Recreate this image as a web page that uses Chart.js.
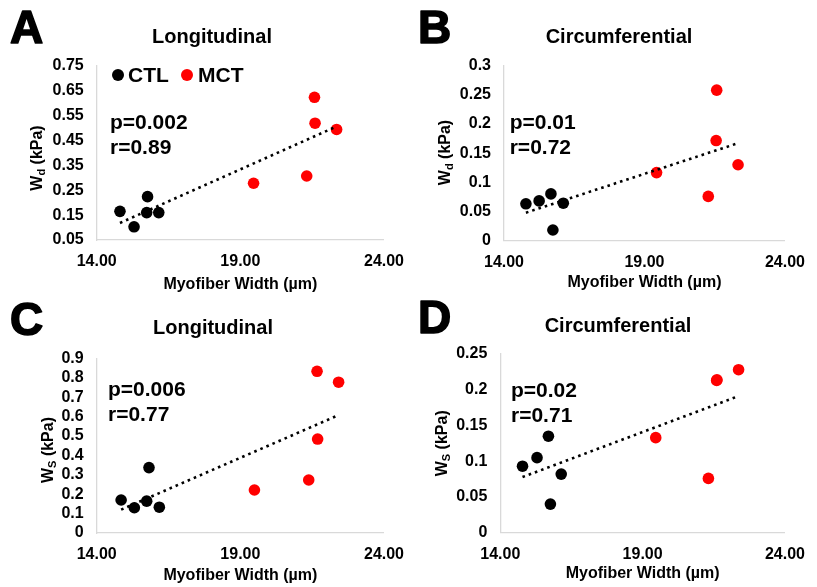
<!DOCTYPE html>
<html>
<head>
<meta charset="utf-8">
<script src="https://cdn.jsdelivr.net/npm/chart.js@4/dist/chart.umd.min.js"></script>
<style>
  html, body { margin: 0; padding: 0; background: #fff; }
  #wrap { position: relative; width: 817px; height: 587px; overflow: hidden; background: #fff; }
  #wrap canvas { position: absolute; left: 0; top: 0; }
</style>
</head>
<body>
<div id="wrap">
  <canvas id="chartA" width="817" height="587"></canvas>
  <canvas id="chartB" width="817" height="587"></canvas>
  <canvas id="chartC" width="817" height="587"></canvas>
  <canvas id="chartD" width="817" height="587"></canvas>
</div>
<script>
// ---- tick values ----
const xTickValues = [14, 19, 24];
const yTicksA = [0.05, 0.15, 0.25, 0.35, 0.45, 0.55, 0.65, 0.75];
const yTicksB = [0, 0.05, 0.1, 0.15, 0.2, 0.25, 0.3];
const yTicksC = [0, 0.1, 0.2, 0.3, 0.4, 0.5, 0.6, 0.7, 0.8, 0.9];
const yTicksD = [0, 0.05, 0.1, 0.15, 0.2, 0.25];

// ---- A: Wd, longitudinal ----
const widthCtlA = [14.81, 15.30, 15.74, 15.77, 16.16];
const wdLongCtl = [0.165, 0.103, 0.160, 0.224, 0.160];
const widthMctA = [19.46, 21.31, 21.58, 21.60, 22.35];
const wdLongMct = [0.278, 0.307, 0.623, 0.519, 0.494];

// ---- B: Wd, circumferential ----
const widthCtlB = [14.78, 15.25, 15.67, 15.74, 16.11];
const wdCircCtl = [0.063, 0.068, 0.080, 0.018, 0.064];
const widthMctB = [19.43, 21.27, 21.57, 21.55, 22.33];
const wdCircMct = [0.1165, 0.0757, 0.258, 0.1715, 0.130];

// ---- C: Ws, longitudinal ----
const widthCtlC = [14.85, 15.31, 15.74, 15.82, 16.18];
const wsLongCtl = [0.170, 0.130, 0.164, 0.337, 0.133];
const widthMctC = [19.49, 21.38, 21.67, 21.69, 22.42];
const wsLongMct = [0.2215, 0.273, 0.833, 0.484, 0.777];

// ---- D: Ws, circumferential ----
const widthCtlD = [14.78, 15.29, 15.69, 15.76, 16.14];
const wsCircCtl = [0.093, 0.105, 0.135, 0.040, 0.082];
const widthMctD = [19.46, 21.31, 21.60, 21.61, 22.37];
const wsCircMct = [0.133, 0.076, 0.213, 0.214, 0.228];

// ---- statistics printed on each panel ----
const statsA = ['p=0.002', 'r=0.89'];
const statsB = ['p=0.01', 'r=0.72'];
const statsC = ['p=0.006', 'r=0.77'];
const statsD = ['p=0.02', 'r=0.71'];

const FONT = '"Liberation Sans", Arial, Helvetica, sans-serif';

function toPoints(xs, ys) {
  return xs.map((x, i) => ({ x: x, y: ys[i] }));
}

// least-squares trend line across both groups, spanning the data's x range
function trendLine(xs, ys) {
  const n = xs.length;
  const mx = xs.reduce((a, b) => a + b, 0) / n;
  const my = ys.reduce((a, b) => a + b, 0) / n;
  let sxy = 0, sxx = 0;
  for (let i = 0; i < n; i++) {
    sxy += (xs[i] - mx) * (ys[i] - my);
    sxx += (xs[i] - mx) * (xs[i] - mx);
  }
  const slope = sxy / sxx;
  const icept = my - slope * mx;
  const x0 = Math.min(...xs), x1 = Math.max(...xs);
  return [{ x: x0, y: icept + slope * x0 }, { x: x1, y: icept + slope * x1 }];
}

// panel lettering, titles, stats, legend and axis titles
const panelText = {
  id: 'panelText',
  afterDraw(chart, args, o) {
    const ctx = chart.ctx;
    const area = chart.chartArea;
    ctx.save();
    ctx.fillStyle = '#000';
    ctx.strokeStyle = '#000';
    ctx.textBaseline = 'alphabetic';

    // heavy panel letter
    ctx.textAlign = 'left';
    ctx.font = 'bold 46px ' + FONT;
    ctx.lineWidth = 1.6;
    ctx.lineJoin = 'round';
    ctx.fillText(o.letter, o.letterPos[0], o.letterPos[1]);
    ctx.strokeText(o.letter, o.letterPos[0], o.letterPos[1]);

    ctx.textAlign = 'center';
    ctx.font = 'bold 20px ' + FONT;
    ctx.fillText(o.title, o.titlePos[0], o.titlePos[1]);

    ctx.textAlign = 'left';
    ctx.font = 'bold 21px ' + FONT;
    o.stats.forEach((s, i) => ctx.fillText(s, o.statsPos[0], o.statsPos[1] + i * 25));

    if (o.legend) {
      const ds = chart.data.datasets;
      o.legend.forEach((item, i) => {
        const d = ds[i];
        ctx.fillStyle = d.backgroundColor;
        ctx.beginPath();
        ctx.arc(item.dot[0], item.dot[1], 6, 0, Math.PI * 2);
        ctx.fill();
        ctx.fillStyle = '#000';
        ctx.font = 'bold 21px ' + FONT;
        ctx.fillText(d.label, item.text[0], item.text[1]);
      });
    }

    // x axis title
    ctx.textAlign = 'center';
    ctx.font = 'bold 16px ' + FONT;
    ctx.fillText('Myofiber Width (\u00b5m)', (area.left + area.right) / 2, o.xTitleY);

    // y axis title with subscript, rotated
    ctx.save();
    ctx.translate(o.yTitlePos[0], o.yTitlePos[1]);
    ctx.rotate(-Math.PI / 2);
    ctx.textBaseline = 'middle';
    ctx.textAlign = 'left';
    const mainFont = 'bold 16px ' + FONT;
    const subFont = 'bold 11px ' + FONT;
    ctx.font = mainFont;
    const wW = ctx.measureText('W').width;
    const rest = ' (kPa)';
    const rW = ctx.measureText(rest).width;
    ctx.font = subFont;
    const sW = ctx.measureText(o.ySub).width;
    let x = -(wW + sW + rW) / 2;
    ctx.font = mainFont;
    ctx.fillText('W', x, 0);
    x += wW;
    ctx.font = subFont;
    ctx.fillText(o.ySub, x, 4);
    x += sW;
    ctx.font = mainFont;
    ctx.fillText(rest, x, 0);
    ctx.restore();

    ctx.restore();
  }
};

const Y_W = 60, X_H = 40;

function makePanel(id, p) {
  const allX = p.ctlX.concat(p.mctX);
  const allY = p.ctlY.concat(p.mctY);
  return new Chart(document.getElementById(id), {
    type: 'scatter',
    data: {
      datasets: [
        { label: 'CTL', data: toPoints(p.ctlX, p.ctlY), backgroundColor: '#000000', borderColor: '#000000',
          pointRadius: 5.8, pointHoverRadius: 5.8, borderWidth: 0, order: 2 },
        { label: 'MCT', data: toPoints(p.mctX, p.mctY), backgroundColor: '#ff0000', borderColor: '#ff0000',
          pointRadius: 5.8, pointHoverRadius: 5.8, borderWidth: 0, order: 2 },
        { label: 'Trend', data: trendLine(allX, allY), showLine: true, borderColor: '#000000',
          borderWidth: 2.6, borderDash: [2.6, 4.0], pointRadius: 0, pointHoverRadius: 0, order: 1 }
      ]
    },
    options: {
      responsive: false,
      animation: false,
      events: [],
      layout: {
        padding: {
          left: p.area.left - Y_W,
          top: p.area.top,
          right: 817 - p.area.right,
          bottom: 587 - p.area.bottom - X_H
        }
      },
      plugins: {
        legend: { display: false },
        tooltip: { enabled: false },
        panelText: p.text
      },
      scales: {
        x: {
          type: 'linear', min: 14, max: 24,
          afterBuildTicks: s => { s.ticks = xTickValues.map(v => ({ value: v })); },
          afterFit: s => { s.height = X_H; },
          ticks: { callback: v => v.toFixed(2), color: '#000', font: { family: FONT, size: 16, weight: 'bold' },
                   padding: 12, maxRotation: 0, autoSkip: false },
          grid: { display: false, drawTicks: false },
          border: { display: true, color: '#d9d9d9', width: 1.3 }
        },
        y: {
          type: 'linear', min: p.yTicks[0], max: p.yTicks[p.yTicks.length - 1],
          afterBuildTicks: s => { s.ticks = p.yTicks.map(v => ({ value: v })); },
          afterFit: s => { s.width = Y_W; },
          ticks: { callback: v => String(v), color: '#000', font: { family: FONT, size: 16, weight: 'bold' },
                   padding: 13, autoSkip: false },
          grid: { display: false, drawTicks: false },
          border: { display: true, color: '#d9d9d9', width: 1.3 }
        }
      }
    },
    plugins: [panelText]
  });
}

makePanel('chartA', {
  ctlX: widthCtlA, ctlY: wdLongCtl, mctX: widthMctA, mctY: wdLongMct, yTicks: yTicksA,
  area: { left: 96.7, right: 384, top: 65.7, bottom: 240 },
  text: { letter: 'A', letterPos: [10, 43], title: 'Longitudinal', titlePos: [212, 43],
          stats: statsA, statsPos: [110, 128.5], ySub: 'd', yTitlePos: [38, 158], xTitleY: 289,
          legend: [{ dot: [118, 75], text: [128, 82] }, { dot: [187, 75], text: [198, 82] }] }
});

makePanel('chartB', {
  ctlX: widthCtlB, ctlY: wdCircCtl, mctX: widthMctB, mctY: wdCircMct, yTicks: yTicksB,
  area: { left: 504, right: 790.7, top: 65.7, bottom: 240.5 },
  text: { letter: 'B', letterPos: [418, 43], title: 'Circumferential', titlePos: [619, 42.7],
          stats: statsB, statsPos: [509.7, 129.3], ySub: 'd', yTitlePos: [446, 152.5], xTitleY: 287.3 }
});

makePanel('chartC', {
  ctlX: widthCtlC, ctlY: wsLongCtl, mctX: widthMctC, mctY: wsLongMct, yTicks: yTicksC,
  area: { left: 96.7, right: 384, top: 358.3, bottom: 533 },
  text: { letter: 'C', letterPos: [10, 335], title: 'Longitudinal', titlePos: [213, 334.3],
          stats: statsC, statsPos: [108, 396], ySub: 'S', yTitlePos: [49, 450], xTitleY: 580 }
});

makePanel('chartD', {
  ctlX: widthCtlD, ctlY: wsCircCtl, mctX: widthMctD, mctY: wsCircMct, yTicks: yTicksD,
  area: { left: 500.3, right: 791, top: 354, bottom: 532.7 },
  text: { letter: 'D', letterPos: [418, 333], title: 'Circumferential', titlePos: [618, 331.7],
          stats: statsD, statsPos: [511, 396.7], ySub: 'S', yTitlePos: [443, 443.3], xTitleY: 578.3 }
});
</script>
</body>
</html>
